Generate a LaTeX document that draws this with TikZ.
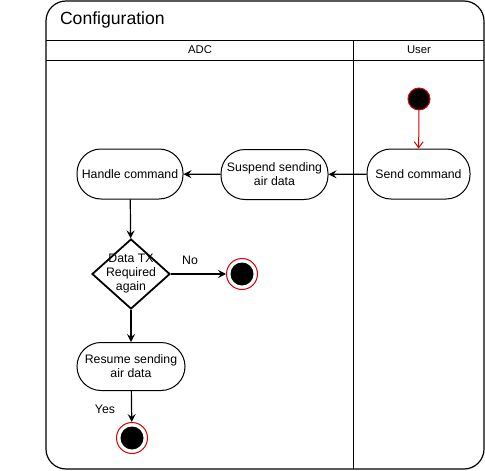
\documentclass[tikz,border=0pt]{standalone}
\usepackage{fontspec}
\setmainfont{Liberation Sans}
\usetikzlibrary{arrows.meta,shapes.geometric}
\begin{document}
\begin{tikzpicture}[x=1pt,y=-1pt,
  pill/.style={draw,line width=1pt,rounded corners=24pt,minimum width=106pt,minimum height=50pt,align=center,inner sep=1pt,font=\fontsize{12.3}{14}\selectfont},
  flow/.style={draw,line width=1.2pt,-{Stealth[length=8pt,width=8pt,inset=3pt]}},
  lbl/.style={font=\fontsize{12.3}{14}\selectfont},
  endout/.style={circle,draw=red!85!black,line width=1pt,fill=white,minimum size=31pt,inner sep=0pt},
  endin/.style={circle,fill=black,minimum size=23pt,inner sep=0pt},
]
\useasboundingbox (0,0) rectangle (485,471);
% frame
\draw[line width=1.2pt,rounded corners=20pt] (46,1) rectangle (484,469);
\draw[line width=1pt] (46,40) -- (484,40);
\draw[line width=1pt] (46,60) -- (484,60);
\draw[line width=1pt] (353,40) -- (353,469);
\node[anchor=west,font=\fontsize{17.6}{20}\selectfont] (title) at (56.5,20) {Configuration};
\node[font=\fontsize{11.3}{13}\selectfont] (adc) at (200,50) {ADC};
\node[font=\fontsize{11.3}{13}\selectfont] (user) at (419,50) {User};
% nodes
\node[circle,fill=black,draw=red!85!black,line width=1pt,minimum size=22pt,inner sep=0pt] (start) at (419,99) {};
\node[pill,minimum width=103pt] (send) at (418.5,174) {Send command};
\node[pill,minimum width=107pt] (susp) at (274.5,174.5) {Suspend sending\\air data};
\node[pill] (handle) at (130,174) {Handle command};
\node[diamond,draw,line width=1.8pt,minimum width=78pt,minimum height=70pt,inner sep=0pt] (dec) at (131,274) {};
\node[lbl,align=center,inner sep=0pt] (dect) at (131,274) {Data TX\\Required\\again};
\node[endout] (endA) at (242,274) {};
\node[endin] (endAi) at (242,274) {};
\node[pill,minimum width=108pt,minimum height=48pt] (resume) at (131,366.5) {Resume sending\\air data};
\node[endout] (endB) at (132,438) {};
\node[endin] (endBi) at (132,438) {};
\node[lbl] (no) at (190,260) {No};
\node[lbl] (yes) at (105,409) {Yes};
% connectors
\draw[draw=red!85!black,line width=1pt,-{Straight Barb[length=6pt,width=9pt]}] (start) -- (send);
\draw[flow] (send) -- (susp);
\draw[flow] (susp) -- (handle);
\draw[flow] (handle) -- (dec);
\draw[flow] (dec) -- (endA);
\draw[flow] (dec) -- (resume);
\draw[flow] (resume) -- (endB);
\end{tikzpicture}
\end{document}
